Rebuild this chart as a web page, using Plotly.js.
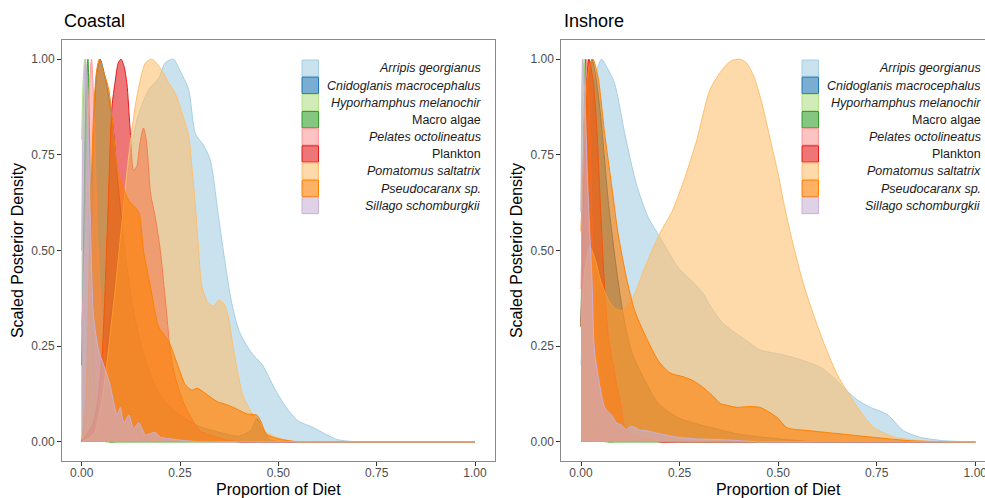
<!DOCTYPE html>
<html>
<head>
<meta charset="utf-8">
<script src="https://cdn.plot.ly/plotly-3.0.1.min.js"></script>
<style>
html,body{margin:0;padding:0;overflow:hidden;background:#fff;}
#chart{width:1000px;height:498px;}
</style>
</head>
<body>
<div id="chart"></div>
<script>
// ---------- categories ----------
const species = ['Arripis georgianus','Cnidoglanis macrocephalus','Hyporhamphus melanochir','Macro algae','Pelates octolineatus','Plankton','Pomatomus saltatrix','Pseudocaranx sp.','Sillago schomburgkii'];
const italicNames = [true,true,true,false,true,false,true,true,true];
const panelNames = ['Coastal','Inshore'];
const tickVals = [0,0.25,0.5,0.75,1];
const tickText = ['0.00','0.25','0.50','0.75','1.00'];

// ---------- Coastal densities ----------
const cArripisX = [0,0.02,0.04,0.07,0.1,0.12,0.14,0.17,0.196,0.212,0.233,0.25,0.272,0.289,0.31,0.327,0.348,0.365,0.38,0.4,0.43,0.46,0.49,0.52,0.55,0.59,0.62,0.65,0.7,0.75,1.0];
const cArripisY = [0,0.01,0.08,0.3,0.55,0.72,0.84,0.92,0.95,0.99,1.0,0.97,0.92,0.805,0.775,0.736,0.587,0.465,0.37,0.29,0.235,0.2,0.14,0.09,0.055,0.037,0.02,0.006,0,0,0];
const cCnidoX = [0,0.01,0.02,0.03,0.038,0.047,0.058,0.069,0.08,0.09,0.11,0.13,0.16,0.2,0.25,0.3,0.35,0.4,0.43,0.445,0.46,0.48,0.52,0.56,1.0];
const cCnidoY = [0,0.05,0.3,0.8,0.96,1.0,0.96,0.9,0.82,0.7,0.5,0.35,0.22,0.12,0.07,0.04,0.025,0.015,0.03,0.06,0.035,0.005,0,0,0];
const cHyporX = [0,0.004,0.008,0.013,0.02,0.03,0.045,0.06,0.08,1.0];
const cHyporY = [0.79,0.95,1.0,0.85,0.45,0.12,0.02,0,0,0];
const cMacroX = [0,0.006,0.012,0.016,0.02,0.026,0.035,0.05,0.07,0.09,1.0];
const cMacroY = [0.2,0.6,0.95,1.0,0.8,0.4,0.12,0.02,0,0,0];
const cPelatesX = [0,0.01,0.018,0.025,0.032,0.04,0.05,0.07,0.1,0.15,0.25,0.35,0.4,1.0];
const cPelatesY = [0.3,0.55,0.9,1.0,0.85,0.55,0.35,0.15,0.06,0.02,0.005,0,0,0];
const cPlanktonX = [0,0.03,0.05,0.065,0.077,0.085,0.093,0.1,0.108,0.115,0.123,0.132,0.14,0.148,0.157,0.164,0.17,0.175,0.187,0.2,0.21,0.217,0.225,0.238,0.26,0.28,0.3,0.35,0.4,0.45,1.0];
const cPlanktonY = [0,0.05,0.2,0.55,0.875,0.94,0.99,1.0,0.98,0.936,0.82,0.71,0.72,0.78,0.82,0.79,0.72,0.65,0.588,0.5,0.4,0.326,0.238,0.168,0.1,0.06,0.03,0.01,0,0,0];
const cPomatomusX = [0,0.03,0.05,0.08,0.1,0.12,0.14,0.162,0.178,0.19,0.204,0.22,0.238,0.255,0.272,0.28,0.288,0.296,0.305,0.32,0.335,0.35,0.362,0.372,0.385,0.395,0.41,0.43,0.45,0.47,0.5,0.55,0.6,1.0];
const cPomatomusY = [0,0.02,0.1,0.35,0.55,0.75,0.9,0.99,1.0,0.99,0.97,0.94,0.91,0.86,0.8,0.72,0.63,0.52,0.41,0.365,0.355,0.37,0.36,0.33,0.25,0.19,0.12,0.08,0.05,0.025,0.01,0,0,0];
const cPseudoX = [0,0.01,0.02,0.03,0.038,0.045,0.055,0.069,0.077,0.09,0.1,0.12,0.145,0.157,0.174,0.196,0.22,0.246,0.263,0.28,0.294,0.31,0.33,0.345,0.36,0.386,0.42,0.445,0.455,0.47,0.5,0.55,0.6,1.0];
const cPseudoY = [0,0.1,0.5,0.85,0.97,1.0,0.97,0.92,0.85,0.72,0.68,0.63,0.6,0.5,0.41,0.3,0.265,0.195,0.15,0.135,0.14,0.13,0.115,0.105,0.1,0.09,0.073,0.07,0.055,0.02,0.008,0,0,0];
const cSillagoX = [0,0.005,0.01,0.015,0.022,0.03,0.043,0.056,0.072,0.082,0.09,0.098,0.107,0.12,0.132,0.145,0.162,0.175,0.187,0.2,0.212,0.246,0.3,0.35,1.0];
const cSillagoY = [0.5,0.9,1.0,0.85,0.59,0.33,0.24,0.2,0.15,0.1,0.07,0.09,0.05,0.07,0.035,0.05,0.018,0.022,0.025,0.012,0.01,0.005,0,0,0];

// ---------- Inshore densities ----------
const iArripisX = [0,0.01,0.02,0.03,0.04,0.052,0.065,0.085,0.111,0.14,0.17,0.2,0.246,0.288,0.31,0.331,0.36,0.42,0.454,0.5,0.539,0.607,0.649,0.674,0.7,0.734,0.776,0.818,0.86,0.92,1.0];
const iArripisY = [0.2,0.45,0.7,0.88,0.97,1.0,0.98,0.937,0.805,0.675,0.587,0.535,0.456,0.413,0.387,0.35,0.31,0.264,0.24,0.23,0.22,0.195,0.16,0.134,0.11,0.09,0.072,0.029,0.012,0.003,0];
const iCnidoX = [0,0.01,0.02,0.028,0.038,0.05,0.07,0.094,0.111,0.13,0.162,0.196,0.246,0.3,0.331,0.4,0.5,0.6,0.65,1.0];
const iCnidoY = [0.3,0.7,0.95,1.0,0.95,0.85,0.62,0.42,0.31,0.23,0.16,0.1,0.063,0.045,0.037,0.02,0.008,0,0,0];
const iHyporX = [0,0.004,0.008,0.014,0.02,0.03,0.045,0.06,0.08,1.0];
const iHyporY = [0.6,0.9,1.0,0.8,0.4,0.12,0.02,0,0,0];
const iMacroX = [0,0.006,0.012,0.018,0.025,0.035,0.05,0.07,0.09,1.0];
const iMacroY = [0.3,0.75,1.0,0.75,0.3,0.08,0.01,0,0,0];
const iPelatesX = [0,0.008,0.015,0.022,0.03,0.04,0.05,0.065,0.08,0.12,0.2,0.25,1.0];
const iPelatesY = [0.4,0.8,1.0,0.85,0.5,0.3,0.15,0.08,0.04,0.01,0,0,0];
const iPlanktonX = [0,0.01,0.02,0.03,0.04,0.05,0.06,0.07,0.085,0.1,0.111,0.13,0.16,0.2,0.25,1.0];
const iPlanktonY = [0.3,0.8,1.0,0.95,0.82,0.6,0.4,0.27,0.18,0.1,0.04,0.02,0.01,0,0,0];
const iPomatomusX = [0,0.01,0.022,0.035,0.05,0.07,0.085,0.1,0.115,0.132,0.162,0.2,0.23,0.26,0.294,0.327,0.36,0.38,0.403,0.42,0.44,0.46,0.48,0.5,0.513,0.53,0.564,0.607,0.649,0.674,0.708,0.742,0.793,0.86,0.95,1.0];
const iPomatomusY = [0.3,0.45,0.51,0.48,0.42,0.37,0.35,0.343,0.35,0.377,0.456,0.545,0.6,0.68,0.79,0.92,0.975,0.995,1.0,0.99,0.95,0.88,0.79,0.7,0.63,0.55,0.413,0.282,0.177,0.134,0.08,0.038,0.013,0.003,0,0];
const iPseudoX = [0,0.01,0.02,0.03,0.043,0.06,0.077,0.094,0.115,0.136,0.162,0.196,0.226,0.26,0.284,0.31,0.339,0.353,0.373,0.396,0.42,0.454,0.497,0.522,0.581,0.666,0.75,0.835,0.92,1.0];
const iPseudoY = [0.55,0.85,0.98,1.0,0.954,0.805,0.675,0.544,0.43,0.343,0.28,0.212,0.18,0.17,0.16,0.142,0.115,0.1,0.095,0.09,0.092,0.09,0.064,0.037,0.029,0.02,0.011,0.003,0,0];
const iSillagoX = [0,0.004,0.01,0.016,0.022,0.028,0.034,0.047,0.06,0.077,0.09,0.102,0.115,0.125,0.136,0.15,0.162,0.204,0.246,0.288,0.373,0.45,0.5,1.0];
const iSillagoY = [0.6,1.0,0.9,0.7,0.55,0.42,0.24,0.15,0.09,0.07,0.05,0.044,0.033,0.04,0.038,0.03,0.03,0.02,0.012,0.008,0.005,0,0,0];

const coastalX = [cArripisX,cCnidoX,cHyporX,cMacroX,cPelatesX,cPlanktonX,cPomatomusX,cPseudoX,cSillagoX];
const coastalY = [cArripisY,cCnidoY,cHyporY,cMacroY,cPelatesY,cPlanktonY,cPomatomusY,cPseudoY,cSillagoY];
const inshoreX = [iArripisX,iCnidoX,iHyporX,iMacroX,iPelatesX,iPlanktonX,iPomatomusX,iPseudoX,iSillagoX];
const inshoreY = [iArripisY,iCnidoY,iHyporY,iMacroY,iPelatesY,iPlanktonY,iPomatomusY,iPseudoY,iSillagoY];

// ---------- styles ----------
const colors = ['#A6CEE3','#1F78B4','#B2DF8A','#33A02C','#FB9A99','#E31A1C','#FDBF6F','#FF7F00','#CAB2D6'];
const ALPHA = 0.6;
function rgba(hex,a){const n=parseInt(hex.slice(1),16);return 'rgba('+((n>>16)&255)+','+((n>>8)&255)+','+(n&255)+','+a+')';}
const FONT = 'Liberation Sans, Arial, Helvetica, sans-serif';

const W = 1000, H = 498;
const M = {l:62, r:5, t:40, b:37.3};
const PW = W - M.l - M.r, PH = H - M.t - M.b;
const px2x = p => (p - M.l) / PW;
const px2y = p => (H - M.b - p) / PH;

const traces = [];
[[coastalX,coastalY,'x','y'],[inshoreX,inshoreY,'x2','y2']].forEach(([XS,YS,xa,ya])=>{
  species.forEach((s,i)=>{
    traces.push({
      type:'scatter', mode:'lines', name:s, x:XS[i], y:YS[i],
      xaxis:xa, yaxis:ya, fill:'tozeroy', fillcolor:rgba(colors[i],ALPHA),
      line:{color:colors[i], width:1, shape:'spline', smoothing:0.7},
      showlegend:false, hoverinfo:'skip'
    });
  });
});

function xAxis(dom, anchor){
  return {domain:dom, range:[-0.05,1.05], anchor:anchor, showgrid:false, zeroline:false,
    showline:true, mirror:true, linecolor:'#8a8a8a', linewidth:1,
    ticks:'outside', ticklen:4, tickwidth:1, tickcolor:'#333', ticklabelstandoff:-3,
    tickvals:tickVals, ticktext:tickText, tickfont:{family:FONT,size:12,color:'#4d4d4d'},
    title:{text:'Proportion of Diet', font:{family:FONT,size:16,color:'#000'}, standoff:4}};
}
function yAxis(anchor){
  return {domain:[0,1], range:[-0.05,1.05], anchor:anchor, showgrid:false, zeroline:false,
    showline:true, mirror:true, linecolor:'#8a8a8a', linewidth:1,
    ticks:'outside', ticklen:4, tickwidth:1, tickcolor:'#333',
    tickvals:tickVals, ticktext:tickText, tickfont:{family:FONT,size:12,color:'#4d4d4d'},
    title:{text:'Scaled Posterior Density', font:{family:FONT,size:16,color:'#000'}, standoff:3}};
}

const shapes = [], annotations = [];
// panel titles
[[62,panelNames[0]],[562,panelNames[1]]].forEach(([p,t])=>{
  annotations.push({xref:'paper',yref:'paper',x:px2x(p),y:px2y(21),xanchor:'left',yanchor:'middle',
    text:t, showarrow:false, font:{family:FONT,size:18,color:'#000'}});
});
// legends (keys + right-aligned labels)
[[302,482.5],[802,982.5]].forEach(([kx,tx])=>{
  species.forEach((s,i)=>{
    const top = 60 + 17.15*i;
    shapes.push({type:'rect',xref:'paper',yref:'paper',x0:px2x(kx),x1:px2x(kx+16.5),y0:px2y(top+16.3),y1:px2y(top),
      fillcolor:rgba(colors[i],ALPHA), line:{color:colors[i],width:1}});
    annotations.push({xref:'paper',yref:'paper',x:px2x(tx),y:px2y(top+8.4),xanchor:'right',yanchor:'middle',
      text:s, showarrow:false, font:{family:FONT,size:12.5,color:'#1a1a1a',style:italicNames[i]?'italic':'normal'}});
  });
});

const layout = {
  width:W, height:H, margin:M, paper_bgcolor:'#fff', plot_bgcolor:'#fff', showlegend:false,
  xaxis: xAxis([0, px2x(494.7)], 'y'),
  yaxis: yAxis('x'),
  xaxis2: xAxis([px2x(561.3), 1], 'y2'),
  yaxis2: yAxis('x2'),
  shapes: shapes, annotations: annotations
};
Plotly.newPlot('chart', traces, layout, {staticPlot:true, displayModeBar:false});
</script>
</body>
</html>
